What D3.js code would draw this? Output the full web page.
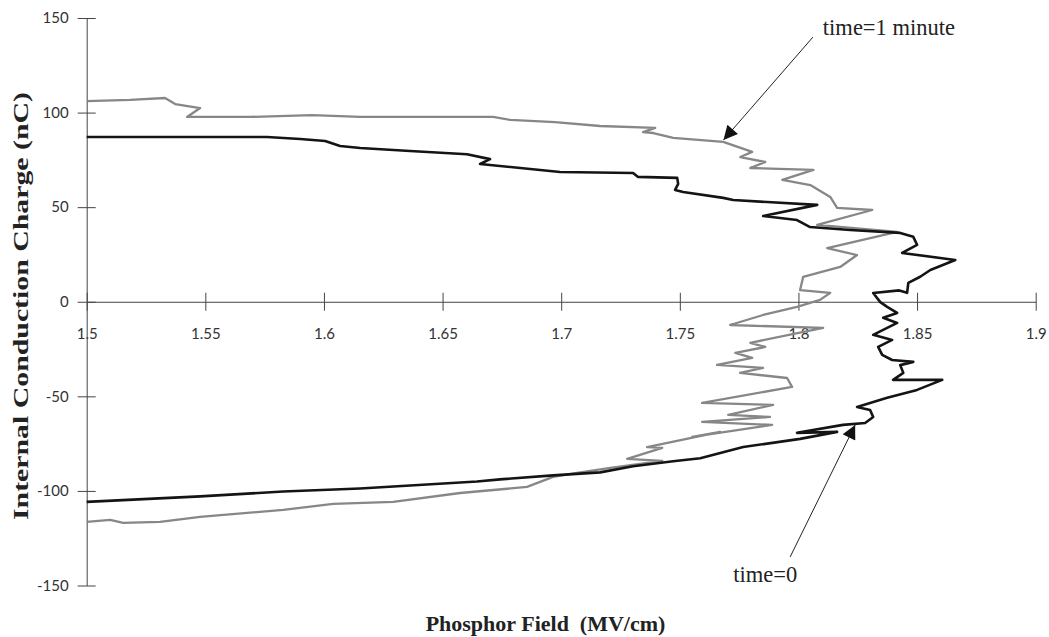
<!DOCTYPE html>
<html>
<head>
<meta charset="utf-8">
<script src="https://d3js.org/d3.v7.min.js"></script>
<style>
  body { margin: 0; background: #fff; }
  .tick text { font-family: "Lato", "DejaVu Sans", sans-serif; font-size: 15px; fill: #333; }
  .ttl { font-family: "Liberation Serif", "Times New Roman", serif; font-weight: bold; fill: #222; white-space: pre; }
  .note { font-family: "Liberation Serif", "Times New Roman", serif; font-size: 22.5px; fill: #222; }
</style>
</head>
<body>
<svg id="chart" width="1049" height="637"></svg>
<script>
// tick values
var xTicks = [1.5, 1.55, 1.6, 1.65, 1.7, 1.75, 1.8, 1.85, 1.9];
var yTicks = [150, 100, 50, 0, -50, -100, -150];

// time=0 loop : [field MV/cm, charge nC]
var time0 = [
  [1.5, 87.1], [1.576, 87.1], [1.590, 86.0], [1.6005, 85.0], [1.6068, 82.3], [1.6153, 81.3],
  [1.6363, 79.7], [1.6603, 78.0], [1.670, 75.4], [1.6658, 72.8], [1.6995, 68.6], [1.7303, 68.1],
  [1.7324, 66.0], [1.7489, 65.5], [1.7493, 62.3], [1.748, 59.1], [1.7514, 58.0], [1.7683, 54.9],
  [1.7725, 53.8], [1.7868, 52.7], [1.8079, 51.2], [1.7851, 45.3], [1.7994, 43.2], [1.8049, 39.5],
  [1.8218, 37.9], [1.8429, 36.4], [1.8484, 34.3], [1.85, 30.1], [1.8437, 25.8], [1.8661, 22.1],
  [1.8556, 16.8], [1.8513, 13.2], [1.8463, 10.0], [1.8458, 4.7], [1.8425, 6.0], [1.8315, 4.6],
  [1.8345, -0.2], [1.8374, -2.7], [1.8416, -5.9], [1.8357, -8.5], [1.8416, -11.2], [1.8315, -17.5],
  [1.8395, -20.2], [1.8336, -23.9], [1.8353, -28.1], [1.8395, -30.8], [1.8484, -31.8], [1.8429, -33.5],
  [1.8442, -37.6], [1.8399, -41.3], [1.8606, -41.3], [1.85, -46.6], [1.8374, -50.8], [1.8247, -55.6],
  [1.8302, -57.2], [1.8315, -60.9], [1.8281, -64.1], [1.8188, -65.1], [1.7994, -69.3], [1.8163, -68.8],
  [1.8007, -72.5], [1.7767, -76.8], [1.7586, -82.7], [1.7472, -84.3], [1.7303, -87.0], [1.7164, -90.2],
  [1.6966, -91.8], [1.6742, -93.9], [1.6645, -95.0], [1.6152, -98.7], [1.5828, -100.3], [1.5478, -102.9],
  [1.5, -105.8]
];

// time=1 minute loop
var time1 = [
  [1.5, 106.1], [1.5183, 106.7], [1.533, 107.7], [1.5373, 104.5], [1.5478, 102.4], [1.5423, 97.7],
  [1.5689, 97.7], [1.595, 98.7], [1.6153, 97.7], [1.6489, 97.7], [1.6713, 97.7], [1.6785, 96.1],
  [1.6974, 95.0], [1.7164, 92.9], [1.7396, 91.9], [1.7345, 89.7], [1.7388, 89.2], [1.7472, 86.6],
  [1.7683, 84.5], [1.7805, 79.2], [1.7755, 76.5], [1.786, 73.9], [1.7797, 70.7], [1.8063, 69.7],
  [1.7932, 64.4], [1.805, 61.7], [1.8134, 55.4], [1.8163, 49.6], [1.8311, 48.5], [1.8079, 40.6],
  [1.8416, 36.9], [1.8121, 28.4], [1.8247, 24.7], [1.8176, 18.4], [1.8020, 13.2], [1.8007, 6.2],
  [1.8134, 4.7], [1.8091, 1.0], [1.7994, -2.7], [1.7851, -7.0], [1.7712, -12.3], [1.8104, -13.8],
  [1.7797, -21.7], [1.786, -23.9], [1.7734, -27.0], [1.7805, -29.7], [1.7657, -33.4], [1.7851, -35.0],
  [1.7754, -37.6], [1.7952, -40.3], [1.7973, -45.0], [1.7594, -53.5], [1.7893, -54.5], [1.7704, -59.8],
  [1.788, -60.9], [1.7594, -63.5], [1.7889, -65.1], [1.7552, -71.4], [1.767, -68.8], [1.7362, -76.8],
  [1.7426, -77.2], [1.7278, -83.1], [1.7426, -84.1], [1.7207, -87.8], [1.7067, -90.5], [1.6966, -92.6],
  [1.6856, -97.9], [1.6574, -101.1], [1.6292, -105.8], [1.6039, -106.9], [1.5828, -110.0], [1.5478, -113.7],
  [1.5309, -116.4], [1.5154, -116.9], [1.5099, -115.3], [1.5, -116.4]
];

// labels with arrows : text anchor, arrow tail, arrow tip (data units)
var noteText = ["time=1 minute", "time=0"];
var noteAt   = [[1.8103, 141.0], [1.7725, -148.1]];
var noteTail = [[1.8061, 139.9], [1.7965, -134.9]];
var noteTip  = [[1.7684, 85.5], [1.8239, -65.1]];

var svg = d3.select("#chart"),
    margin = {top: 18, left: 86.7},
    width = 949,
    height = 567.5;

var g = svg.append("g").attr("transform", "translate(" + margin.left + "," + margin.top + ")");

var x = d3.scaleLinear().domain([1.5, 1.9]).range([0, width]);
var y = d3.scaleLinear().domain([-150, 150]).range([height, 0]);

// x axis on the zero line
var xAx = g.append("g")
    .attr("transform", "translate(0," + y(0) + ")")
    .call(d3.axisBottom(x).tickValues(xTicks).tickFormat(function(d) { return String(d); })
      .tickSize(9).tickSizeOuter(0).tickPadding(18));
xAx.selectAll(".tick line").attr("y1", -9);

var yAx = g.append("g")
    .call(d3.axisLeft(y).tickValues(yTicks).tickFormat(function(d) { return String(d); })
      .tickSize(9).tickSizeOuter(0).tickPadding(9));
yAx.selectAll(".tick line").attr("x1", 9);

g.selectAll(".domain, .tick line").attr("stroke", "#444").attr("stroke-width", 1);

var line = d3.line()
    .x(function(d) { return x(d[0]); })
    .y(function(d) { return y(d[1]); });

g.append("path").datum(time1)
    .attr("fill", "none").attr("stroke", "#878787").attr("stroke-width", 2.3)
    .attr("stroke-linejoin", "round").attr("d", line);

g.append("path").datum(time0)
    .attr("fill", "none").attr("stroke", "#141414").attr("stroke-width", 2.6)
    .attr("stroke-linejoin", "round").attr("d", line);

// arrows
svg.append("defs").append("marker")
    .attr("id", "head").attr("viewBox", "0 0 10 10")
    .attr("refX", 10).attr("refY", 5)
    .attr("markerWidth", 18).attr("markerHeight", 14)
    .attr("markerUnits", "userSpaceOnUse")
    .attr("orient", "auto")
  .append("path").attr("d", "M0,0L10,5L0,10z").attr("fill", "#111");

noteText.forEach(function(t, i) {
  g.append("line")
      .attr("x1", x(noteTail[i][0])).attr("y1", y(noteTail[i][1]))
      .attr("x2", x(noteTip[i][0])).attr("y2", y(noteTip[i][1]))
      .attr("stroke", "#222").attr("stroke-width", 1)
      .attr("marker-end", "url(#head)");
  g.append("text").attr("class", "note")
      .attr("x", x(noteAt[i][0])).attr("y", y(noteAt[i][1]))
      .text(t);
});

// titles
svg.append("text").attr("class", "ttl")
    .attr("x", 545.5).attr("y", 631)
    .attr("text-anchor", "middle")
    .style("font-size", "22px")
    .text("Phosphor Field  (MV/cm)");

svg.append("text").attr("class", "ttl")
    .attr("transform", "translate(28,306) rotate(-90)")
    .attr("text-anchor", "middle")
    .style("font-size", "22px")
    .attr("textLength", 428).attr("lengthAdjust", "spacingAndGlyphs")
    .text("Internal Conduction Charge (nC)");
</script>
</body>
</html>
